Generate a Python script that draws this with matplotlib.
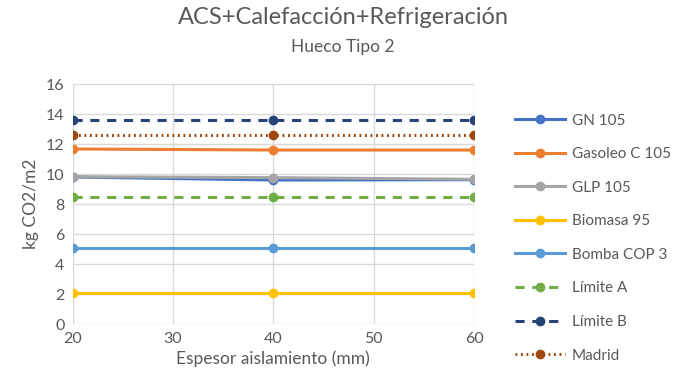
import matplotlib.pyplot as plt

plt.rcParams['font.family'] = ['Lato', 'DejaVu Sans']

espesor = [20, 40, 60]

gn_105 = [9.8, 9.6, 9.62]
gasoleo_c_105 = [11.67, 11.6, 11.6]
glp_105 = [9.82, 9.76, 9.65]
biomasa_95 = [2.05, 2.05, 2.05]
bomba_cop_3 = [5.05, 5.05, 5.05]
limite_a = [8.47, 8.47, 8.47]
limite_b = [13.58, 13.58, 13.58]
madrid = [12.58, 12.58, 12.58]

series = [
    ('GN 105', gn_105, '#4472C4', '-'),
    ('Gasoleo C 105', gasoleo_c_105, '#ED7D31', '-'),
    ('GLP 105', glp_105, '#A5A5A5', '-'),
    ('Biomasa 95', biomasa_95, '#FFC000', '-'),
    ('Bomba COP 3', bomba_cop_3, '#5B9BD5', '-'),
    ('Límite A', limite_a, '#70AD47', (0, (3, 2.5))),
    ('Límite B', limite_b, '#264478', (0, (3, 2.5))),
    ('Madrid', madrid, '#9E480E', (0, (0.6, 1.2))),
]

grey = '#595959'

fig = plt.figure(figsize=(6.86, 3.89), dpi=100)
ax = fig.add_axes([0.106, 0.167, 0.585, 0.617])

for label, vals, color, ls in series:
    ax.plot(espesor, vals, color=color, linestyle=ls, linewidth=2.2,
            marker='o', markersize=6, label=label)

ax.set_xlim(20, 60)
ax.set_ylim(0, 16)
ax.set_xticks([20, 30, 40, 50, 60])
ax.set_yticks(range(0, 17, 2))
ax.grid(color='#d9d9d9', linewidth=1)
ax.set_axisbelow(True)
for s in ax.spines.values():
    s.set_visible(False)
ax.tick_params(length=0, labelsize=11.5, colors=grey, pad=6)
ax.set_xlabel('Espesor aislamiento (mm)', fontsize=12.5, color=grey, labelpad=3)
ax.set_ylabel('kg CO2/m2', fontsize=12.5, color=grey, labelpad=5)

fig.text(0.5, 0.954, 'ACS+Calefacción+Refrigeración', ha='center', va='center',
         fontsize=17, color=grey)
fig.text(0.5, 0.879, 'Hueco Tipo 2', ha='center', va='center',
         fontsize=12.5, color=grey)

leg = ax.legend(loc='center left', bbox_to_anchor=(0.730, 0.388),
                bbox_transform=fig.transFigure, frameon=False,
                fontsize=11, handlelength=3.3, labelspacing=1.28,
                handletextpad=0.45)
for t in leg.get_texts():
    t.set_color(grey)

fig.savefig('out.png', dpi=100)
